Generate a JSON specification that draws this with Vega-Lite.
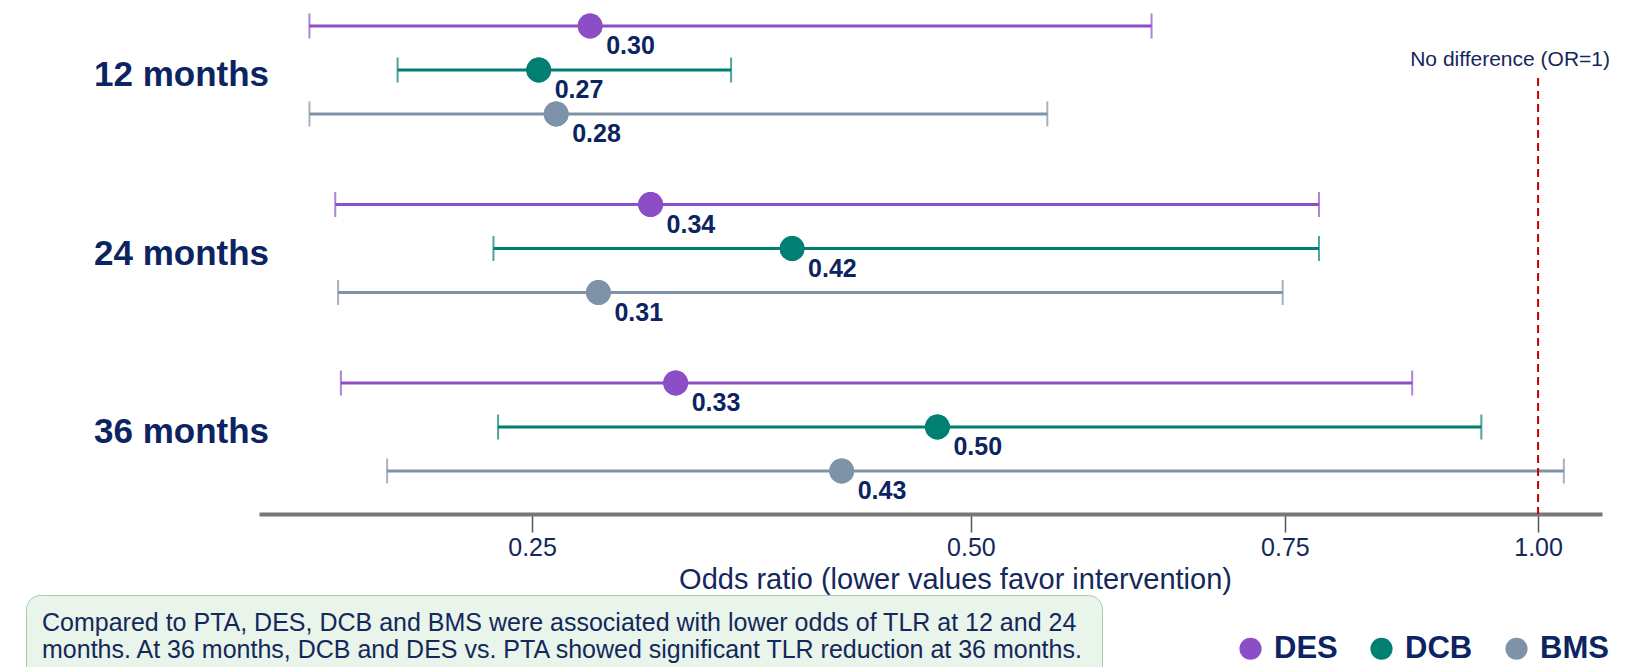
{
  "$schema": "https://vega.github.io/schema/vega-lite/v6.json",
  "width": 1343,
  "height": 514,
  "autosize": {"type": "none"},
  "padding": {"left": 259, "top": 0, "right": 35, "bottom": 153},
  "background": "white",
  "config": {"view": {"stroke": null}, "font": "Liberation Sans"},
  "datasets": {
    "forest": [
      {"month": "12 months", "device": "DES", "or": 0.277, "lo": 0.162, "hi": 0.636, "label": "0.30"},
      {"month": "12 months", "device": "DCB", "or": 0.253, "lo": 0.194, "hi": 0.350, "label": "0.27"},
      {"month": "12 months", "device": "BMS", "or": 0.261, "lo": 0.162, "hi": 0.555, "label": "0.28"},
      {"month": "24 months", "device": "DES", "or": 0.307, "lo": 0.171, "hi": 0.781, "label": "0.34"},
      {"month": "24 months", "device": "DCB", "or": 0.385, "lo": 0.233, "hi": 0.781, "label": "0.42"},
      {"month": "24 months", "device": "BMS", "or": 0.281, "lo": 0.172, "hi": 0.748, "label": "0.31"},
      {"month": "36 months", "device": "DES", "or": 0.320, "lo": 0.173, "hi": 0.870, "label": "0.33"},
      {"month": "36 months", "device": "DCB", "or": 0.477, "lo": 0.235, "hi": 0.940, "label": "0.50"},
      {"month": "36 months", "device": "BMS", "or": 0.415, "lo": 0.190, "hi": 1.028, "label": "0.43"}
    ],
    "ref": [
      {"or": 1, "kind": "No difference", "text": "No difference (OR=1)"}
    ]
  },
  "layer": [
    {
      "data": {"name": "forest"},
      "mark": {"type": "point", "filled": true, "size": 615, "opacity": 1, "shape": "circle"},
      "encoding": {
        "x": {
          "field": "or", "type": "quantitative",
          "title": "Odds ratio (lower values favor intervention)",
          "scale": {"type": "pow", "exponent": 0.37, "domain": [0.1453, 1.0704], "zero": false, "nice": false},
          "axis": {
            "values": [0.25, 0.5, 0.75, 1], "format": ".2f", "grid": false,
            "domainColor": "#777777", "domainWidth": 4,
            "tickColor": "#555555", "tickWidth": 1.5, "tickSize": 18,
            "labelFontSize": 25, "labelColor": "#14285A", "labelPadding": 3,
            "titleFontSize": 29, "titleFontWeight": "normal", "titleColor": "#14285A",
            "titleX": 696, "titleY": 74, "titleBaseline": "alphabetic", "titleAlign": "center"
          }
        },
        "y": {
          "field": "month", "type": "nominal", "title": null,
          "scale": {"domain": ["12 months", "24 months", "36 months"], "paddingInner": 0.2605, "paddingOuter": 0.07, "align": 0.16},
          "axis": {
            "ticks": false, "tickSize": 0, "domain": false, "grid": false,
            "labelFontSize": 35, "labelFontWeight": "bold", "labelColor": "#0C2461",
            "labelAlign": "center", "labelPadding": 78, "labelBaseline": "middle", "labelOffset": 5
          }
        },
        "yOffset": {"field": "device", "type": "nominal", "scale": {"domain": ["DES", "DCB", "BMS"], "paddingInner": 0, "paddingOuter": 0}},
        "color": {
          "field": "device", "type": "nominal",
          "scale": {"domain": ["DES", "DCB", "BMS"], "range": ["#8C4EC6", "#007F72", "#7E93A8"]},
          "legend": {
            "title": null, "orient": "none", "direction": "horizontal",
            "legendX": 976, "legendY": 633, "padding": 0,
            "symbolType": "circle", "symbolSize": 490, "symbolStrokeWidth": 0, "symbolOpacity": 1,
            "labelFontSize": 31, "labelFontWeight": "bold", "labelColor": "#0C2461",
            "labelOffset": 8, "columnPadding": 28
          }
        }
      }
    },
    {
      "data": {"name": "forest"},
      "mark": {"type": "rule", "strokeWidth": 3},
      "encoding": {
        "x": {"field": "lo", "type": "quantitative", "title": "Odds ratio (lower values favor intervention)"},
        "x2": {"field": "hi"},
        "y": {"field": "month", "type": "nominal", "title": null},
        "yOffset": {"field": "device", "type": "nominal"},
        "color": {"field": "device", "type": "nominal", "legend": null}
      }
    },
    {
      "data": {"name": "forest"},
      "mark": {"type": "tick", "size": 25, "thickness": 2, "orient": "vertical"},
      "encoding": {
        "x": {"field": "lo", "type": "quantitative", "title": "Odds ratio (lower values favor intervention)"},
        "y": {"field": "month", "type": "nominal", "title": null},
        "yOffset": {"field": "device", "type": "nominal"},
        "color": {"field": "device", "type": "nominal", "legend": null}
      }
    },
    {
      "data": {"name": "forest"},
      "mark": {"type": "tick", "size": 25, "thickness": 2, "orient": "vertical"},
      "encoding": {
        "x": {"field": "hi", "type": "quantitative", "title": "Odds ratio (lower values favor intervention)"},
        "y": {"field": "month", "type": "nominal", "title": null},
        "yOffset": {"field": "device", "type": "nominal"},
        "color": {"field": "device", "type": "nominal", "legend": null}
      }
    },
    {
      "data": {"name": "forest"},
      "mark": {"type": "point", "filled": true, "size": 615, "opacity": 1, "shape": "circle"},
      "encoding": {
        "x": {"field": "or", "type": "quantitative", "title": "Odds ratio (lower values favor intervention)"},
        "y": {"field": "month", "type": "nominal", "title": null},
        "yOffset": {"field": "device", "type": "nominal"},
        "color": {"field": "device", "type": "nominal", "legend": null}
      }
    },
    {
      "data": {"name": "forest"},
      "mark": {"type": "text", "align": "left", "baseline": "alphabetic", "dx": 16, "dy": 28, "fontSize": 25, "fontWeight": "bold", "color": "#0C2461"},
      "encoding": {
        "x": {"field": "or", "type": "quantitative", "title": "Odds ratio (lower values favor intervention)"},
        "y": {"field": "month", "type": "nominal", "title": null},
        "yOffset": {"field": "device", "type": "nominal"},
        "text": {"field": "label"}
      }
    },
    {
      "data": {"name": "ref"},
      "mark": {"type": "rule", "color": "#C00000", "strokeWidth": 2},
      "encoding": {
        "x": {"field": "or", "type": "quantitative", "title": "Odds ratio (lower values favor intervention)"},
        "y": {"datum": "12 months", "bandPosition": 0.56, "title": null},
        "y2": {"value": "height"},
        "strokeDash": {
          "field": "kind", "type": "nominal",
          "scale": {"range": [[8, 5]]},
          "legend": {
            "title": ["Compared to PTA, DES, DCB and BMS were associated with lower odds of TLR at 12 and 24", "months. At 36 months, DCB and DES vs. PTA showed significant TLR reduction at 36 months."],
            "orient": "none", "legendX": -233, "legendY": 595, "padding": 16,
            "fillColor": "#E9F4EB", "strokeColor": "#A3D0A6", "cornerRadius": 14,
            "titleFontSize": 25, "titleFontWeight": "normal", "titleColor": "#14285A",
            "titleLimit": 1400, "titleLineHeight": 27, "titlePadding": 4,
            "symbolSize": 0, "symbolOpacity": 0, "symbolStrokeWidth": 0,
            "labelExpr": "''", "labelFontSize": 1
          }
        }
      }
    },
    {
      "data": {"name": "ref"},
      "mark": {"type": "text", "align": "center", "baseline": "alphabetic", "dx": -28, "fontSize": 21, "color": "#14285A"},
      "encoding": {
        "x": {"field": "or", "type": "quantitative", "title": "Odds ratio (lower values favor intervention)"},
        "y": {"datum": "12 months", "bandPosition": 0.47, "title": null},
        "text": {"field": "text"}
      }
    }
  ]
}
